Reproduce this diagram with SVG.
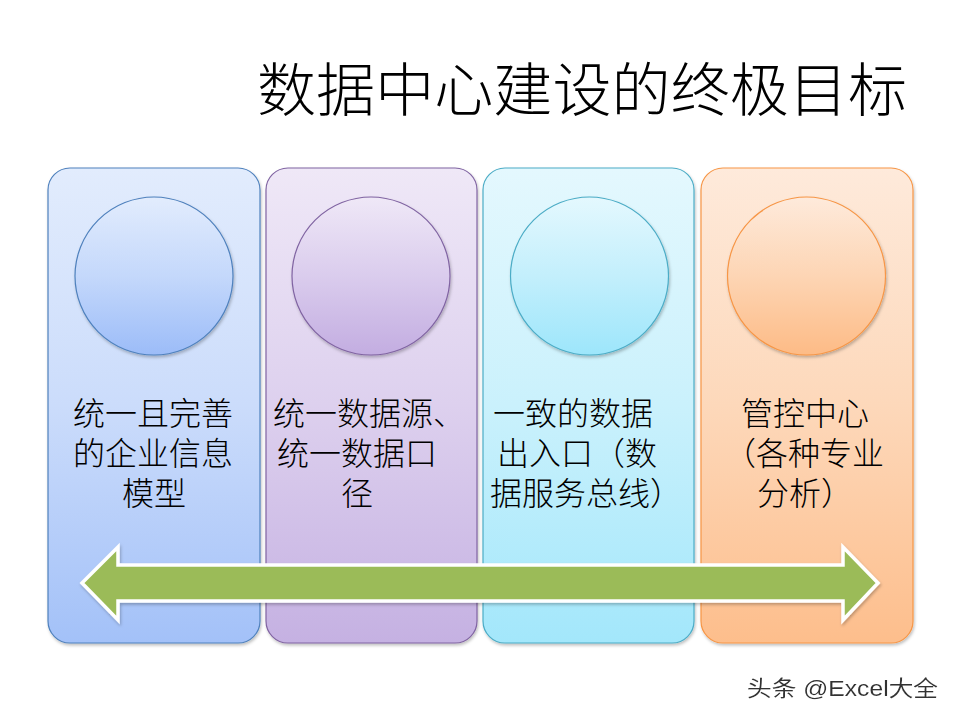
<svg xmlns="http://www.w3.org/2000/svg" width="960" height="720" viewBox="0 0 960 720">
<defs>
<linearGradient id="gP1" x1="0" y1="0" x2="0" y2="1"><stop offset="0" stop-color="#E2ECFD"/><stop offset="0.5" stop-color="#CBDCFB"/><stop offset="1" stop-color="#A3C1F8"/></linearGradient>
<linearGradient id="gC1" x1="0" y1="0" x2="0" y2="1"><stop offset="0" stop-color="#E2ECFD"/><stop offset="0.5" stop-color="#C4D8FB"/><stop offset="1" stop-color="#9CBCF8"/></linearGradient>
<linearGradient id="gP2" x1="0" y1="0" x2="0" y2="1"><stop offset="0" stop-color="#EFE8F7"/><stop offset="0.5" stop-color="#DDD0EE"/><stop offset="1" stop-color="#C5B1E2"/></linearGradient>
<linearGradient id="gC2" x1="0" y1="0" x2="0" y2="1"><stop offset="0" stop-color="#EFE8F7"/><stop offset="0.5" stop-color="#DACCED"/><stop offset="1" stop-color="#C3ADE1"/></linearGradient>
<linearGradient id="gP3" x1="0" y1="0" x2="0" y2="1"><stop offset="0" stop-color="#E4F8FE"/><stop offset="0.5" stop-color="#CAF1FC"/><stop offset="1" stop-color="#A3E7FB"/></linearGradient>
<linearGradient id="gC3" x1="0" y1="0" x2="0" y2="1"><stop offset="0" stop-color="#E4F8FE"/><stop offset="0.5" stop-color="#C3EFFC"/><stop offset="1" stop-color="#9DE6FB"/></linearGradient>
<linearGradient id="gP4" x1="0" y1="0" x2="0" y2="1"><stop offset="0" stop-color="#FEEADB"/><stop offset="0.5" stop-color="#FDD8BA"/><stop offset="1" stop-color="#FDBE8C"/></linearGradient>
<linearGradient id="gC4" x1="0" y1="0" x2="0" y2="1"><stop offset="0" stop-color="#FEEADB"/><stop offset="0.5" stop-color="#FDD5B4"/><stop offset="1" stop-color="#FDBB86"/></linearGradient>
<filter id="sh" x="-10%" y="-10%" width="120%" height="120%"><feDropShadow dx="1" dy="2" stdDeviation="1.5" flood-color="#000" flood-opacity="0.25"/></filter>
<filter id="wm" x="-5%" y="-20%" width="110%" height="140%"><feDropShadow dx="1" dy="1" stdDeviation="0.6" flood-color="#fff" flood-opacity="1"/></filter>
</defs>
<style>
.panel{stroke-width:1.2;filter:url(#sh)}
.circ{stroke-width:1.2;filter:url(#sh)}
.lbl{font-family:"Liberation Sans","Noto Sans CJK SC",sans-serif;font-size:32px;font-weight:300;fill:#000}
.title{font-family:"Noto Sans CJK SC","Noto Sans",sans-serif;font-size:58px;font-weight:300;fill:#000}
.wm{font-family:"Liberation Sans","Noto Sans CJK SC",sans-serif;font-size:22px;fill:#333;filter:url(#wm)}
</style>
<rect width="960" height="720" fill="#fff"/>
<text class="title" x="257" y="111" textLength="650" lengthAdjust="spacingAndGlyphs">数据中心建设的终极目标</text>

<g id="node1">
<rect class="panel" x="48" y="168" width="212" height="475" rx="22" fill="url(#gP1)" stroke="#4F81BD"/>
<circle class="circ" cx="154" cy="276" r="79" fill="url(#gC1)" stroke="#4F81BD"/>
<text class="lbl" x="73" y="425">统一且完善<tspan x="73" dy="40">的企业信息</tspan><tspan x="122" dy="40">模型</tspan></text>
</g>
<g id="node2">
<rect class="panel" x="266" y="168" width="211" height="475" rx="22" fill="url(#gP2)" stroke="#8064A2"/>
<circle class="circ" cx="371" cy="276" r="79" fill="url(#gC2)" stroke="#8064A2"/>
<text class="lbl" x="273" y="425">统一数据源、<tspan x="277" dy="40">统一数据口</tspan><tspan x="341" dy="40">径</tspan></text>
</g>
<g id="node3">
<rect class="panel" x="483" y="168" width="211" height="475" rx="22" fill="url(#gP3)" stroke="#4BACC6"/>
<circle class="circ" cx="589.5" cy="276" r="79" fill="url(#gC3)" stroke="#4BACC6"/>
<text class="lbl" x="493" y="425">一致的数据<tspan x="497" dy="40">出入口（数</tspan><tspan x="490" dy="40">据服务总线）</tspan></text>
</g>
<g id="node4">
<rect class="panel" x="701" y="168" width="212" height="475" rx="22" fill="url(#gP4)" stroke="#F79646"/>
<circle class="circ" cx="806.5" cy="276" r="79" fill="url(#gC4)" stroke="#F79646"/>
<text class="lbl" x="741" y="425">管控中心<tspan x="724" dy="40">（各种专业</tspan><tspan x="757" dy="40">分析）</tspan></text>
</g>

<g id="connectors">
<path d="M82,583 L118,547 L118,565 L843,565 L843,547 L878,583 L843,620 L843,601 L118,601 L118,620 Z" fill="#9BBB59" stroke="#fff" stroke-width="3.5" stroke-linejoin="miter" filter="url(#sh)"/>
</g>

<text class="wm" x="747" y="696" textLength="191" lengthAdjust="spacingAndGlyphs">头条 @Excel大全</text>
</svg>
